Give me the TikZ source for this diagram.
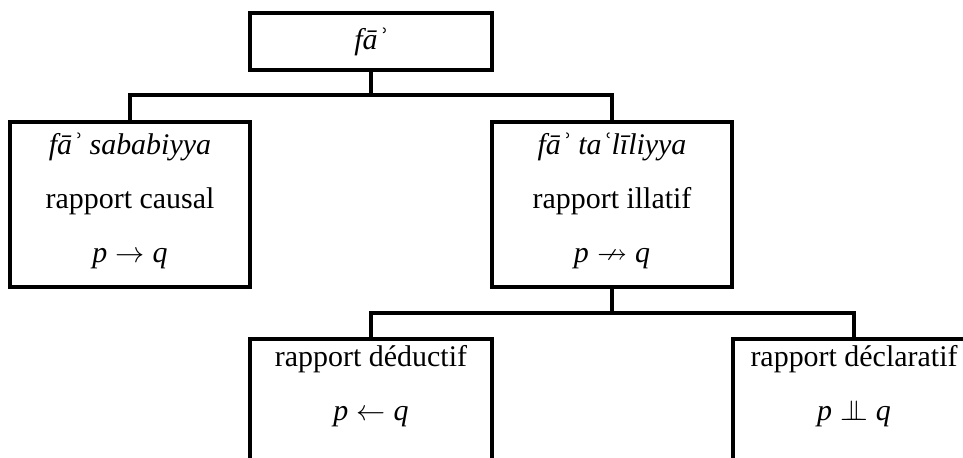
\documentclass[tikz,border=0pt]{standalone}
\usepackage{amsmath}
\usepackage{amssymb}
\usepackage{fontspec}
\setmainfont{Liberation Serif}
\usetikzlibrary{positioning}
\newcommand{\indep}{\mathrel{\perp\mkern-11mu\perp}}

\begin{document}
\begin{tikzpicture}[line width=0.08cm,
  box/.style={draw, align=center, outer sep=0pt, font=\fontsize{21.3}{38.4}\selectfont},
  tallbox/.style={box, anchor=north, minimum width=6cm, inner ysep=0pt}]
\useasboundingbox (0,0) rectangle (24.075,-11.425);
\clip (0,0) rectangle (24.075,-11.425);
\node (fa) at (9.275, -1.0375) [box, minimum width=6.05cm, minimum height=1.425cm] {\textit{fāʾ}};
\node (sab) at (3.25, -3.05) [tallbox, text height=3.5cm, text depth=0.625cm] {\textit{fāʾ sababiyya} \\ rapport causal \\ $\textit{p} \rightarrow \textit{q}$};
\node (tal) at (15.3, -3.05) [tallbox, text height=3.5cm, text depth=0.625cm] {\textit{fāʾ taʿlīliyya} \\ rapport illatif \\ $\textit{p} \nrightarrow \textit{q}$};
\node (ded) at (9.275, -8.475) [tallbox, minimum width=6.05cm, text height=2.025cm, text depth=2.5cm] {rapport déductif \\ $\textit{p} \leftarrow \textit{q}$};
\node (dec) at (21.35, -8.475) [tallbox, minimum width=6.05cm, text height=2.025cm, text depth=2.5cm] {rapport déclaratif \\ $\textit{p} \indep \textit{q}$};

\coordinate (j1) at (9.275, -2.375);
\coordinate (j2) at (15.3, -7.825);

\draw (fa.south) -- (j1);
\draw (sab.north) |- (j1) -| (tal.north);
\draw (tal.south) -- (j2);
\draw (ded.north) |- (j2) -| (dec.north);
\end{tikzpicture}
\end{document}
